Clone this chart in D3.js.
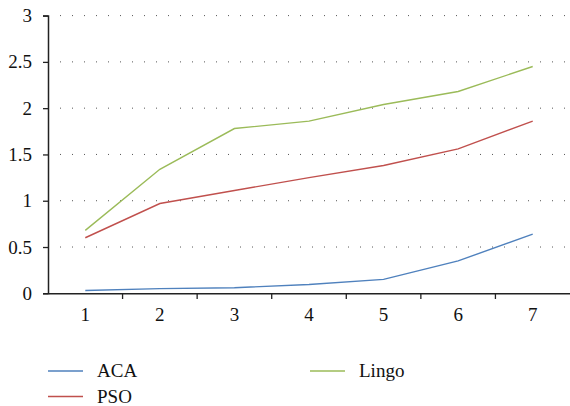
<!DOCTYPE html>
<html><head><meta charset="utf-8">
<script src="https://cdn.jsdelivr.net/npm/d3@7"></script>
<style>body{margin:0;background:#fff}svg{display:block}</style>
</head><body>
<script>
const categories = ["1","2","3","4","5","6","7"];
const yTicks = [0,0.5,1,1.5,2,2.5,3];
const seriesNames = ["ACA","PSO","Lingo"];
const aca = [0.03,0.05,0.06,0.095,0.15,0.35,0.64];
const pso = [0.6,0.97,1.11,1.25,1.38,1.56,1.86];
const lingo = [0.68,1.34,1.78,1.86,2.04,2.18,2.45];
const colors = ["#4f81bd","#c0504d","#9bbb59"];

const FONT = "Liberation Serif";
const W=570,H=406;
const svg=d3.select("body").append("svg").attr("width",W).attr("height",H);
const x=d3.scaleBand().domain(categories).range([48,570]);
const y=d3.scaleLinear().domain([0,3]).range([293.3,15.6]);

// grid
svg.append("g").selectAll("line").data(yTicks.filter(d=>d>0)).join("line")
  .attr("x1",60).attr("x2",570).attr("y1",d=>y(d)).attr("y2",d=>y(d))
  .attr("stroke","#555").attr("stroke-width",1).attr("stroke-dasharray","1,11");

// y axis
const ya=svg.append("g").attr("transform","translate(48,0)")
  .call(d3.axisLeft(y).tickValues(yTicks).tickSize(5).tickPadding(11).tickFormat(d3.format("")));
ya.attr("font-family",FONT).attr("font-size",19);
ya.select(".domain").attr("stroke","#222").attr("stroke-width",1.5);
ya.selectAll(".tick line").attr("stroke","#222").attr("stroke-width",1.3);
ya.selectAll("text").attr("fill","#111");

// x axis
const xa=svg.append("g").attr("transform","translate(0,293.3)")
  .call(d3.axisBottom(x).tickSize(0).tickPadding(14));
xa.attr("font-family",FONT).attr("font-size",19);
xa.select(".domain").attr("stroke","#222").attr("stroke-width",1.5);
xa.selectAll("text").attr("fill","#111");
// boundary ticks
svg.append("g").selectAll("line").data(categories.slice(1)).join("line")
  .attr("x1",d=>x(d)).attr("x2",d=>x(d)).attr("y1",293.3).attr("y2",299)
  .attr("stroke","#222").attr("stroke-width",1.3);

const data=[aca,pso,lingo];
const line=d3.line().x((d,i)=>x(categories[i])+x.bandwidth()/2).y(d=>y(d));
svg.append("g").selectAll("path").data(data).join("path")
  .attr("d",line).attr("fill","none").attr("stroke",(d,i)=>colors[i]).attr("stroke-width",1.4);

// legend
const legPos=[[48,371],[48,396.5],[310,371]];
const lg=svg.append("g").attr("font-family",FONT).attr("font-size",19)
  .selectAll("g").data(seriesNames).join("g")
  .attr("transform",(d,i)=>`translate(${legPos[i][0]},${legPos[i][1]})`);
lg.append("line").attr("x1",0).attr("x2",35).attr("stroke",(d,i)=>colors[i]).attr("stroke-width",1.5);
lg.append("text").attr("x",49).attr("dy","0.33em").attr("fill","#111").text(d=>d);
</script>
</body></html>
